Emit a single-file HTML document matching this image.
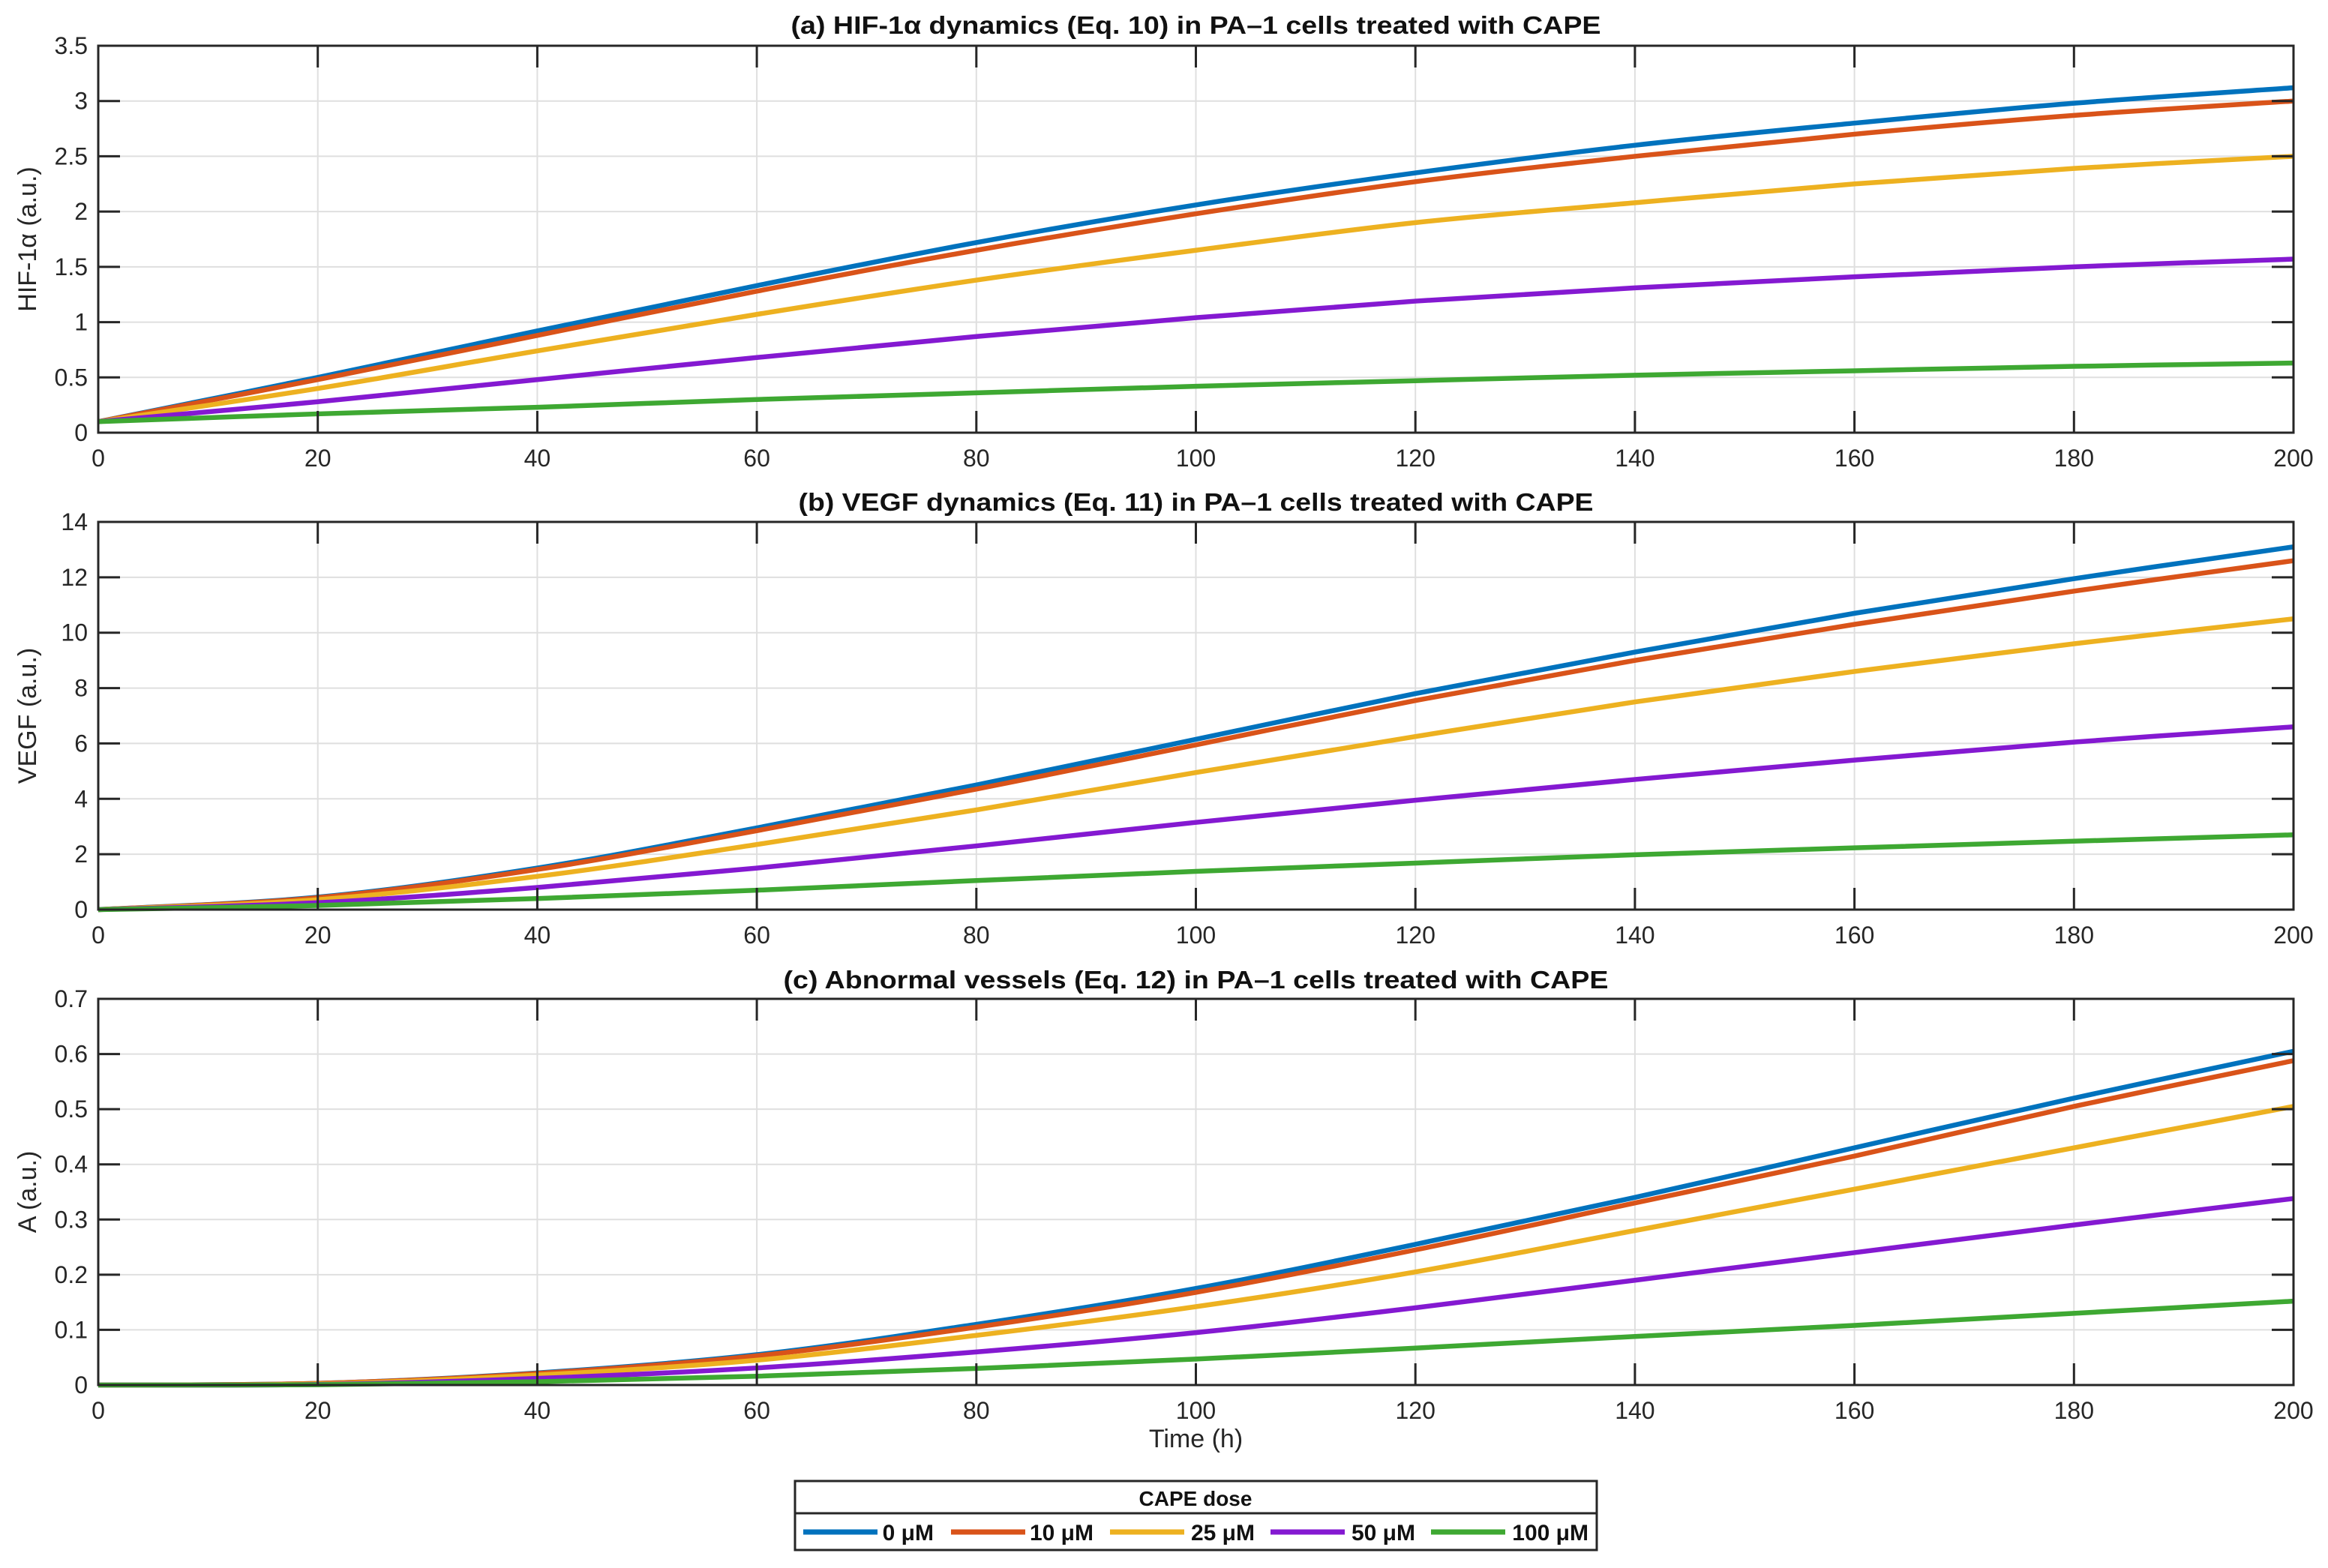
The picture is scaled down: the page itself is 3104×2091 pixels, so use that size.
<!DOCTYPE html>
<html><head><meta charset="utf-8"><style>
html,body{margin:0;padding:0;background:#fff;}
svg{display:block;font-family:"Liberation Sans",Arial,sans-serif;}
</style></head><body>
<svg id="fig" width="3104" height="2091" viewBox="0 0 3104 2091" xmlns="http://www.w3.org/2000/svg"></svg>
<script>
const times=[0,20,40,60,80,100,120,140,160,180,200];
const doseLabels=["0 \u03BCM","10 \u03BCM","25 \u03BCM","50 \u03BCM","100 \u03BCM"];
const hifBlue=[0.1,0.5,0.92,1.33,1.72,2.06,2.35,2.6,2.8,2.98,3.12];
const hifOrange=[0.1,0.48,0.88,1.28,1.65,1.98,2.27,2.5,2.7,2.87,3.0];
const hifYellow=[0.1,0.4,0.74,1.07,1.38,1.65,1.9,2.08,2.25,2.39,2.5];
const hifPurple=[0.1,0.28,0.48,0.68,0.87,1.04,1.19,1.31,1.41,1.5,1.57];
const hifGreen=[0.1,0.17,0.23,0.3,0.36,0.42,0.47,0.52,0.56,0.6,0.63];
const vegfBlue=[0,0.45,1.5,2.95,4.5,6.15,7.8,9.3,10.7,11.95,13.1];
const vegfOrange=[0,0.43,1.45,2.85,4.35,5.95,7.55,9.0,10.3,11.5,12.6];
const vegfYellow=[0,0.36,1.2,2.35,3.6,4.95,6.25,7.5,8.6,9.6,10.5];
const vegfPurple=[0,0.25,0.8,1.5,2.3,3.15,3.95,4.7,5.4,6.05,6.6];
const vegfGreen=[0,0.15,0.4,0.7,1.05,1.38,1.68,1.98,2.23,2.47,2.7];
const aBlue=[0,0.003,0.022,0.055,0.11,0.175,0.255,0.34,0.43,0.52,0.605];
const aOrange=[0,0.003,0.021,0.053,0.105,0.168,0.245,0.33,0.415,0.505,0.588];
const aYellow=[0,0.002,0.018,0.045,0.09,0.142,0.205,0.28,0.355,0.43,0.505];
const aPurple=[0,0.001,0.012,0.031,0.06,0.095,0.14,0.19,0.24,0.29,0.338];
const aGreen=[0,0.0005,0.006,0.016,0.03,0.047,0.067,0.088,0.108,0.13,0.152];
const xTicks=[0,20,40,60,80,100,120,140,160,180,200];
const hifTicks=[0,0.5,1,1.5,2,2.5,3,3.5];
const vegfTicks=[0,2,4,6,8,10,12,14];
const aTicks=[0,0.1,0.2,0.3,0.4,0.5,0.6,0.7];

const colors=["#0072BD","#D95319","#EDB120","#8419D1","#3EA832"];
const NS="http://www.w3.org/2000/svg";
const svg=document.getElementById('fig');
function mk(tag,attrs,parent){const e=document.createElementNS(NS,tag);for(const k in attrs)e.setAttribute(k,attrs[k]);(parent||svg).appendChild(e);return e;}
const L=131,R=3058;
function smooth(pts){let d="M"+pts[0][0]+","+pts[0][1];for(let i=0;i<pts.length-1;i++){const p0=pts[Math.max(0,i-1)],p1=pts[i],p2=pts[i+1],p3=pts[Math.min(pts.length-1,i+2)];const c1x=p1[0]+(p2[0]-p0[0])/6,c1y=p1[1]+(p2[1]-p0[1])/6,c2x=p2[0]-(p3[0]-p1[0])/6,c2y=p2[1]-(p3[1]-p1[1])/6;d+=" C"+c1x+","+c1y+" "+c2x+","+c2y+" "+p2[0]+","+p2[1];}return d;}
const panels=[
 {name:"hif",top:61,bot:577,ymax:3.5,ticks:hifTicks,series:[hifBlue,hifOrange,hifYellow,hifPurple,hifGreen],title:"(a) HIF-1\u03B1 dynamics (Eq. 10)  in PA\u20131 cells treated with CAPE",ylab:"HIF-1\u03B1 (a.u.)",titleY:34,tl:1080,yl:190},
 {name:"vegf",top:696,bot:1213,ymax:14,ticks:vegfTicks,series:[vegfBlue,vegfOrange,vegfYellow,vegfPurple,vegfGreen],title:"(b) VEGF dynamics (Eq. 11)  in PA\u20131 cells treated with CAPE",ylab:"VEGF (a.u.)",titleY:670,tl:1060,yl:190},
 {name:"vessels",top:1332,bot:1847,ymax:0.7,ticks:aTicks,series:[aBlue,aOrange,aYellow,aPurple,aGreen],title:"(c) Abnormal vessels (Eq. 12)  in PA\u20131 cells treated with CAPE",ylab:"A (a.u.)",titleY:1307,tl:1100,yl:125}
];
const xs=t=>L+(t/200)*(R-L);
panels.forEach(p=>{
 const ys=v=>p.bot-(v/p.ymax)*(p.bot-p.top);
 const g=mk('g',{});
 
 
 xTicks.forEach(t=>{const l=mk('line',{x1:xs(t),x2:xs(t),y1:p.top,y2:p.bot,stroke:"#dfdfdf","stroke-width":2},g);});
 p.ticks.forEach(v=>{const l=mk('line',{x1:L,x2:R,y1:ys(v),y2:ys(v),stroke:"#dfdfdf","stroke-width":2},g);});
 p.series.forEach((s,i)=>{const pts=times.map((t,j)=>[xs(t),ys(s[j])]);const path=mk('path',{d:smooth(pts),fill:"none",stroke:colors[i],"stroke-width":6.5,"stroke-linejoin":"round"},g);});
 const box=mk('rect',{x:L,y:p.top,width:R-L,height:p.bot-p.top,fill:"none",stroke:"#262626","stroke-width":3},g);
 xTicks.forEach(t=>{mk('line',{x1:xs(t),x2:xs(t),y1:p.bot,y2:p.bot-29,stroke:"#262626","stroke-width":3},g);mk('line',{x1:xs(t),x2:xs(t),y1:p.top,y2:p.top+29,stroke:"#262626","stroke-width":3},g);
  const tx=mk('text',{x:xs(t),y:p.bot+45,"font-size":32,fill:"#262626","text-anchor":"middle"},g);tx.textContent=t;});
 p.ticks.forEach(v=>{const y=ys(v);mk('line',{x1:L,x2:L+29,y1:y,y2:y,stroke:"#262626","stroke-width":3},g);mk('line',{x1:R,x2:R-29,y1:y,y2:y,stroke:"#262626","stroke-width":3},g);
  const tx=mk('text',{x:117,y:y+11,"font-size":32,fill:"#262626","text-anchor":"end"},g);tx.textContent=v;});
 const ti=mk('text',{x:(L+R)/2,y:p.titleY+11,"font-size":33,"font-weight":"bold",fill:"#111","text-anchor":"middle",textLength:p.tl,lengthAdjust:"spacingAndGlyphs"},g);ti.textContent=p.title;
 const yl=mk('text',{x:0,y:0,"font-size":34,fill:"#262626","text-anchor":"middle",transform:"translate(48,"+((p.top+p.bot)/2)+") rotate(-90)"},g);yl.textContent=p.ylab;
});
const xt=mk('text',{x:(L+R)/2,y:1930,"font-size":34,fill:"#262626","text-anchor":"middle"});xt.textContent="Time (h)";


// legend
const lg=mk('g',{});


mk('rect',{x:1060,y:1975,width:1069,height:92,fill:"#fff",stroke:"#262626","stroke-width":3},lg);
mk('line',{x1:1060,x2:2129,y1:2018,y2:2018,stroke:"#262626","stroke-width":3},lg);
const lt=mk('text',{x:1594,y:2008,"font-size":28,"font-weight":"bold",fill:"#111","text-anchor":"middle"},lg);lt.textContent="CAPE dose";


const entryX=[1071,1268,1480,1694,1908];
const entryEnd=[1245,1458,1673,1887,2118];
doseLabels.forEach((d,i)=>{const eg=mk('g',{},lg);
 mk('line',{x1:entryX[i],x2:entryX[i]+99,y1:2043,y2:2043,stroke:colors[i],"stroke-width":7},eg);
 const t=mk('text',{x:entryEnd[i],y:2054,"font-size":30,"font-weight":"bold",fill:"#111","text-anchor":"end"},eg);t.textContent=d;});
</script>
</body></html>
